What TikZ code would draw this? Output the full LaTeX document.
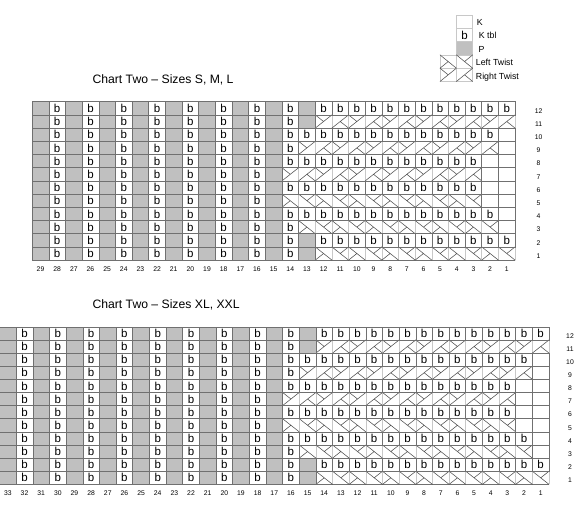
\documentclass[tikz,border=0pt]{standalone}
\usepackage{fontspec}
\setmainfont{Liberation Sans}
\definecolor{pgray}{HTML}{C0C0C0}
\definecolor{gline}{HTML}{707070}
\definecolor{tline}{HTML}{C8C8C8}
\definecolor{sline}{HTML}{505050}
\tikzset{
  gridline/.style={draw=gline, line width=0.6pt},
  twh/.style={gridline},
  twistsep/.style={draw=tline, line width=0.6pt},
  stitchline/.style={draw=sline, line width=0.55pt, line cap=round},
  btxt/.style={font=\fontsize{11.5}{12}\selectfont, inner sep=0pt},
  numtxt/.style={font=\fontsize{6.8}{8}\selectfont, inner sep=0pt},
  titletxt/.style={font=\fontsize{12.2}{14}\selectfont, inner sep=0pt, anchor=base west},
  legtxt/.style={font=\fontsize{8.8}{10}\selectfont, inner sep=0pt, anchor=base west},
}
% twist symbols at absolute position (left x, top y), image coordinates
\newcommand\TwRat[2]{%
  \draw[twistsep] (#1,#2) -- ++(0,\ch) (#1+\cw,#2) -- ++(0,\ch) (#1+2*\cw,#2) -- ++(0,\ch);
  \draw[twh] (#1,#2) -- ++(2*\cw,0) (#1,#2+\ch) -- ++(2*\cw,0);
  \draw[stitchline] (#1,#2+\ch) -- (#1+\cw,#2) (#1+\cw,#2+\ch) -- (#1+2*\cw,#2)
    (#1,#2) -- (#1+0.5*\cw,#2+0.5*\ch) (#1+2*\cw,#2+\ch) -- (#1+1.5*\cw,#2+0.5*\ch);}
\newcommand\TwLat[2]{%
  \draw[twistsep] (#1,#2) -- ++(0,\ch) (#1+\cw,#2) -- ++(0,\ch) (#1+2*\cw,#2) -- ++(0,\ch);
  \draw[twh] (#1,#2) -- ++(2*\cw,0) (#1,#2+\ch) -- ++(2*\cw,0);
  \draw[stitchline] (#1,#2) -- (#1+\cw,#2+\ch) (#1+\cw,#2) -- (#1+2*\cw,#2+\ch)
    (#1,#2+\ch) -- (#1+0.5*\cw,#2+0.5*\ch) (#1+1.5*\cw,#2+0.5*\ch) -- (#1+2*\cw,#2);}
\newcommand\cellpos[2]{\pgfmathsetmacro\xl{\cxo+(\cN-#1)*\cw}\pgfmathsetmacro\yt{\cyo+(12-#2)*\ch}}
\newcommand\TwR[2]{\cellpos{#1}{#2}\TwRat{\xl}{\yt}}
\newcommand\TwL[2]{\cellpos{#1}{#2}\TwLat{\xl}{\yt}}
\newcommand\Pcell[2]{\cellpos{#1}{#2}\filldraw[fill=pgray,gridline] (\xl,\yt) rectangle ++(\cw,\ch);}
\newcommand\Kcell[2]{\cellpos{#1}{#2}\draw[gridline] (\xl,\yt) rectangle ++(\cw,\ch);}
\newcommand\Bcell[2]{\cellpos{#1}{#2}\draw[gridline] (\xl,\yt) rectangle ++(\cw,\ch);
  \node[btxt] (\cid b#1r#2) at ({\xl+0.5*\cw},{\yt+0.5*\ch}) {b};}
\newcommand\drawchart{%
  \pgfmathtruncatemacro\na{\cn+1}%
  \pgfmathtruncatemacro\nb{\cn+2}%
  \pgfmathtruncatemacro\nc{\cn+3}%
  \pgfmathtruncatemacro\kmax{\cn/2-1}%
  % twists
  \foreach \k in {0,...,\kmax}{%
    \pgfmathtruncatemacro\ca{\cn-2*\k}%
    \pgfmathtruncatemacro\cb{\cn+1-2*\k}%
    \pgfmathtruncatemacro\cc{\cn+2-2*\k}%
    \TwR{\ca}{11}\TwR{\cb}{9}\TwR{\cc}{7}\TwL{\cc}{5}\TwL{\cb}{3}\TwL{\ca}{1}}
  % left ribbing
  \foreach \c in {\nc,...,\cN}{%
    \pgfmathtruncatemacro\odd{mod(\c,2)}%
    \foreach \r in {1,...,12}{%
      \ifnum\odd=1 \Pcell{\c}{\r}\else\Bcell{\c}{\r}\fi}}
  \foreach \r in {12,11,10,9,8,6,4,3,2,1}{\Bcell{\nb}{\r}}
  \foreach \r in {12,11,2,1}{\Pcell{\na}{\r}}
  \foreach \r in {10,8,6,4}{\Bcell{\na}{\r}}
  \foreach \c in {1,...,\cn}{\Bcell{\c}{12}\Bcell{\c}{2}}
  \foreach \c in {2,...,\cn}{\Bcell{\c}{10}\Bcell{\c}{4}}
  \foreach \c in {3,...,\cn}{\Bcell{\c}{8}\Bcell{\c}{6}}
  \Kcell{1}{10}\Kcell{1}{4}\Kcell{1}{9}\Kcell{1}{3}
  \foreach \r in {8,7,6,5}{\Kcell{1}{\r}\Kcell{2}{\r}}
  % labels
  \foreach \c in {1,...,\cN}{%
    \pgfmathsetmacro\xc{\cxo+(\cN-\c+0.5)*\cw}%
    \pgfmathsetmacro\yc{\cyo+12*\ch+9}%
    \node[numtxt] (\cid c\c) at (\xc,\yc) {\c};}
  \foreach \r in {1,...,12}{%
    \pgfmathsetmacro\xr{\cxo+\cN*\cw+\rlo}%
    \pgfmathsetmacro\yr{\cyo+(12.5-\r)*\ch+2.5}%
    \node[numtxt] (\cid r\r) at (\xr,\yr) {\r};}
}
\begin{document}
\begin{tikzpicture}[x=1pt,y=-1pt]
\useasboundingbox[fill=white] (0,0) rectangle (580,511);
% legend
\begin{scope}[twh/.style={draw=tline, line width=0.6pt}]
  \def\cw{16.35}\def\ch{13.3}
  \draw[draw=tline, line width=0.6pt] (456.35,15) rectangle ++(\cw,\ch);
  \draw[draw=tline, line width=0.6pt] (456.35,28.3) rectangle ++(\cw,\ch);
  \node[btxt] (legb) at (464.5,34.95) {b};
  \filldraw[fill=pgray, draw=tline, line width=0.6pt] (456.35,41.6) rectangle ++(\cw,\ch);
  \TwLat{440}{54.9}
  \TwRat{440}{68.2}
  \node[legtxt] (legK) at (476.7,26) {K};
  \node[legtxt] (legKtbl) at (478.7,38.3) {K tbl};
  \node[legtxt] (legP) at (478.3,52.3) {P};
  \node[legtxt] (legLT) at (475.7,65.7) {Left Twist};
  \node[legtxt] (legRT) at (475.7,79.6) {Right Twist};
\end{scope}
% titles
\node[titletxt] (title1) at (92.3,83.3) {Chart Two – Sizes S, M, L};
\node[titletxt] (title2) at (92.3,308.8) {Chart Two – Sizes XL, XXL};
% top chart
\begin{scope}
  \def\cid{T}\def\cxo{32.2}\def\cyo{101.7}\def\cN{29}\def\cn{12}
  \def\cw{16.65}\def\ch{13.2}\def\rlo{23.5}
  \drawchart
\end{scope}
% bottom chart
\begin{scope}
  \def\cid{X}\def\cxo{-0.45}\def\cyo{326.8}\def\cN{33}\def\cn{14}
  \def\cw{16.65}\def\ch{13.13}\def\rlo{21}
  \drawchart
\end{scope}
\end{tikzpicture}
\end{document}
